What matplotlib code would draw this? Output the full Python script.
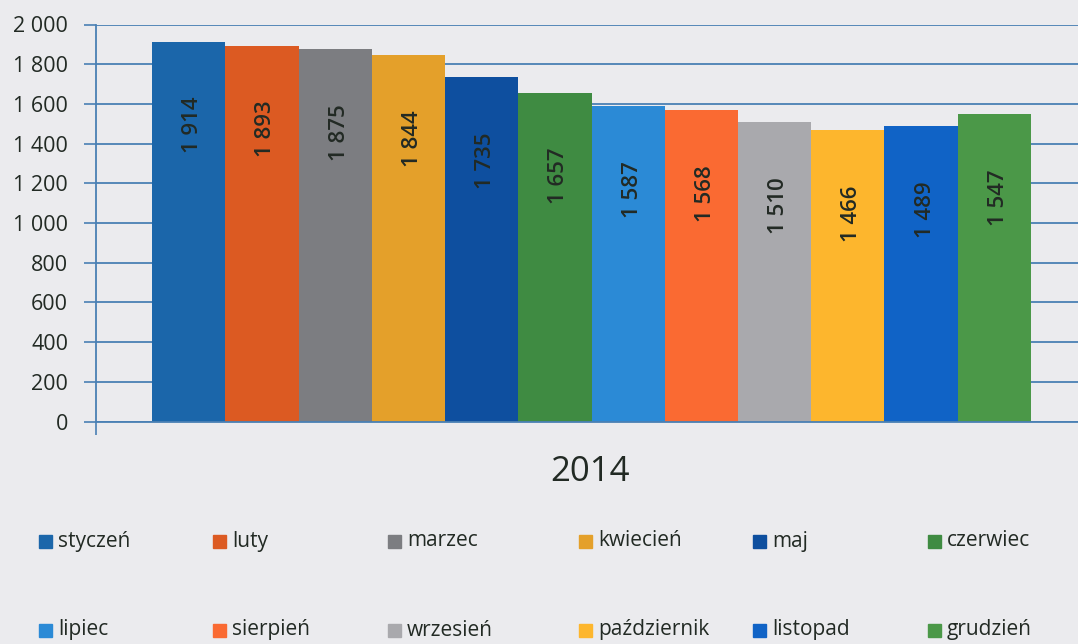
import matplotlib.pyplot as plt
from matplotlib.patches import Rectangle

plt.rcParams['font.family'] = ['Open Sans', 'DejaVu Sans']

miesiace = ["styczeń", "luty", "marzec", "kwiecień", "maj", "czerwiec",
            "lipiec", "sierpień", "wrzesień", "październik", "listopad", "grudzień"]
wartosci = [1914, 1893, 1875, 1844, 1735, 1657, 1587, 1568, 1510, 1466, 1489, 1547]
kolory = ["#1b66aa", "#dc5a22", "#7c7d81", "#e4a02a", "#0e4f9f", "#3f8b42",
          "#2b8ad6", "#fa6a32", "#a9a9ad", "#fdb62d", "#1063c6", "#4b9848"]
yticks = list(range(0, 2001, 200))
rok = "2014"

tlo = "#ebebee"
siatka = "#4a80b4"
tekst = "#222a24"

def fmt(v):
    return "{:,}".format(v).replace(",", " ")

W, H = 1078, 644
fig = plt.figure(figsize=(W / 100, H / 100), dpi=100, facecolor=tlo)

left, right, top, bottom = 96, 1078, 24.5, 421.5
ax = fig.add_axes([left / W, (H - bottom) / H, (right - left) / W, (bottom - top) / H])
ax.set_facecolor(tlo)

x = list(range(len(wartosci)))
ax.bar(x, wartosci, width=1.0, color=kolory, zorder=2)

px = 73.25
xmin = -0.5 - (152 - left) / px
ax.set_xlim(xmin, xmin + (right - left) / px)
ax.set_ylim(0, 2000)

ax.set_yticks(yticks)
ax.set_yticklabels([fmt(t) for t in yticks], fontsize=15.5, color=tekst)
ax.tick_params(axis='y', length=9, width=1.2, color=siatka, pad=11)
ax.set_xticks([xmin])
ax.set_xticklabels([""])
ax.tick_params(axis='x', length=9, width=1.2, color=siatka)
ax.yaxis.grid(True, color=siatka, linewidth=1.3)
ax.set_axisbelow(True)
for s in ["top", "right"]:
    ax.spines[s].set_visible(False)
for s in ["left", "bottom"]:
    ax.spines[s].set_color(siatka)
    ax.spines[s].set_linewidth(1.3)

for i, v in enumerate(wartosci):
    ax.annotate(fmt(v), xy=(i, v), xytext=(4, -55), textcoords='offset pixels',
                rotation=90, ha='center', va='top', fontsize=16, fontweight='semibold',
                color=tekst, zorder=3)

# os X - rok i legenda w pikselach figury
ov = fig.add_axes([0, 0, 1, 1])
ov.set_xlim(0, W)
ov.set_ylim(H, 0)
ov.axis('off')
ov.patch.set_alpha(0)

ov.text(590, 472, rok, ha='center', va='center', fontsize=25, color=tekst)

kol_x = [39, 213, 388, 579, 753, 928]
wiersz_y = [541, 630]
for i, (m, k) in enumerate(zip(miesiace, kolory)):
    cx = kol_x[i % 6]
    cy = wiersz_y[i // 6]
    ov.add_patch(Rectangle((cx, cy - 6.5), 13, 13, color=k))
    ov.text(cx + 19, cy, m, ha='left', va='center', fontsize=15, color=tekst)

fig.savefig("out.png", dpi=100, facecolor=tlo)
